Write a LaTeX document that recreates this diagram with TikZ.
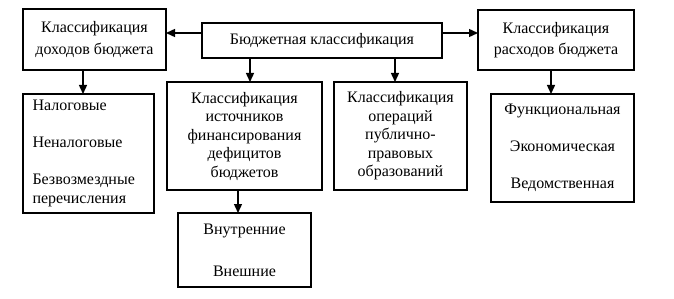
\documentclass[tikz,border=0pt]{standalone}
\usepackage{fontspec}
\setmainfont{Liberation Serif}
\usetikzlibrary{arrows.meta}
\begin{document}
\begin{tikzpicture}[x=1pt,y=-1pt,
  box/.style={draw,line width=1.4pt,inner sep=0pt,outer sep=0pt,align=center,
    font=\fontsize{16}{18.5}\selectfont},
  arr/.style={line width=1.4pt,-{Triangle[length=9pt,width=8pt]}}]
\useasboundingbox (0,0) rectangle (674,299);
\node[box,minimum width=143pt,minimum height=61pt] (A) at (94.5,39.5) {Классификация\\[3pt]доходов бюджета};
\node[box,minimum width=240pt,minimum height=35pt] (B) at (322,40.5) {Бюджетная классификация};
\node[box,minimum width=156pt,minimum height=60pt] (C) at (556,40) {Классификация\\[3pt]расходов бюджета};
\node[box,minimum width=155pt,minimum height=108pt] (D) at (244.5,136) {Классификация\\источников\\финансирования\\дефицитов\\бюджетов};
\node[box,minimum width=133pt,minimum height=108pt] (E) at (400.5,136) {Классификация\\операций\\публично-\\правовых\\образований};
\node[box,minimum width=131pt,minimum height=119pt,align=left] (F) at (88.5,153.5) {\makebox[112pt][l]{Налоговые}\\ \\Неналоговые\\ \\Безвозмездные\\перечисления};
\node[box,minimum width=143pt,minimum height=108pt] (G) at (562.5,148) {Функциональная\\ \\Экономическая\\ \\Ведомственная};
\node[box,minimum width=133pt,minimum height=74pt] (H) at (244.5,250) {Внутренние\\[23.5pt]Внешние};
\coordinate (bw) at ([yshift=7.5pt]B.west);
\coordinate (be) at ([yshift=7.5pt]B.east);
\draw[arr] (bw) -- (bw -| A.east);
\draw[arr] (be) -- (be -| C.west);
\coordinate (bd) at ([xshift=-72pt]B.south);
\coordinate (bE) at ([xshift=73pt]B.south);
\draw[arr] (bd) -- (bd |- D.north);
\draw[arr] (bE) -- (bE |- E.north);
\coordinate (af) at ([xshift=-11.5pt]A.south);
\draw[arr] (af) -- (af |- F.north);
\coordinate (cg) at ([xshift=-5pt]C.south);
\draw[arr] (cg) -- (cg |- G.north);
\coordinate (dh) at ([xshift=-6.5pt]D.south);
\draw[arr] (dh) -- (dh |- H.north);
\end{tikzpicture}
\end{document}
